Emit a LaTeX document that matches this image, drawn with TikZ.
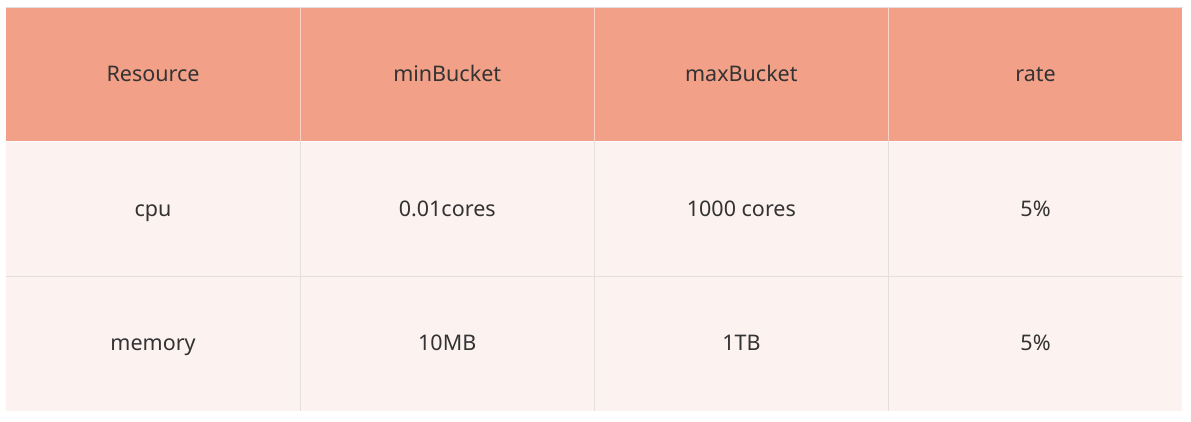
\documentclass[tikz,border=0pt]{standalone}
\usepackage{fontspec}
\setmainfont{Noto Sans}
\usetikzlibrary{positioning}
\definecolor{headfill}{HTML}{F2A087}
\definecolor{bodyfill}{HTML}{FCF2F0}
\definecolor{gridline}{HTML}{E4DFDE}
\definecolor{headline}{HTML}{F9D3C7}
\definecolor{celltext}{HTML}{333333}
\tikzset{
    headcell/.style={rectangle, fill=headfill, minimum width=293.75pt, minimum height=134.3pt, inner sep=0pt, text height=17pt, text depth=3pt, text=celltext, font=\fontsize{21.5}{25}\selectfont, anchor=north west},
    bodycell/.style={headcell, fill=bodyfill},
}

\begin{document}
\begin{tikzpicture}[x=1pt,y=-1pt,
  gridrule/.style={draw=gridline,line width=0.8pt},
  headrule/.style={draw=headline,line width=0.8pt}
]
\useasboundingbox (0,0) rectangle (1191,422);

% Header row
\node[headcell] (hres) at (6,7) {Resource};
\node[headcell,right=0pt of hres.north east,anchor=north west] (hmin) {minBucket};
\node[headcell,right=0pt of hmin.north east,anchor=north west] (hmax) {maxBucket};
\node[headcell,right=0pt of hmax.north east,anchor=north west] (hrate) {rate};

% cpu row
\node[bodycell,below=0pt of hres.south west,anchor=north west] (cres) {cpu};
\node[bodycell,right=0pt of cres.north east,anchor=north west] (cmin) {0.01cores};
\node[bodycell,right=0pt of cmin.north east,anchor=north west] (cmax) {1000 cores};
\node[bodycell,right=0pt of cmax.north east,anchor=north west] (crate) {5\%};

% memory row
\node[bodycell,below=0pt of cres.south west,anchor=north west] (mres) {memory};
\node[bodycell,right=0pt of mres.north east,anchor=north west] (mmin) {10MB};
\node[bodycell,right=0pt of mmin.north east,anchor=north west] (mmax) {1TB};
\node[bodycell,right=0pt of mmax.north east,anchor=north west] (mrate) {5\%};

% Rules
\draw[gridrule] (hres.north west) -- (hrate.north east);
\draw[gridrule] (mres.north west) -- (mrate.north east);
\foreach \h/\b in {hres/mres,hmin/mmin,hmax/mmax} {
  \draw[headrule] (\h.north east) -- (\h.south east);
  \draw[gridrule] (\h.south east) -- (\b.south east);
}
\end{tikzpicture}
\end{document}
